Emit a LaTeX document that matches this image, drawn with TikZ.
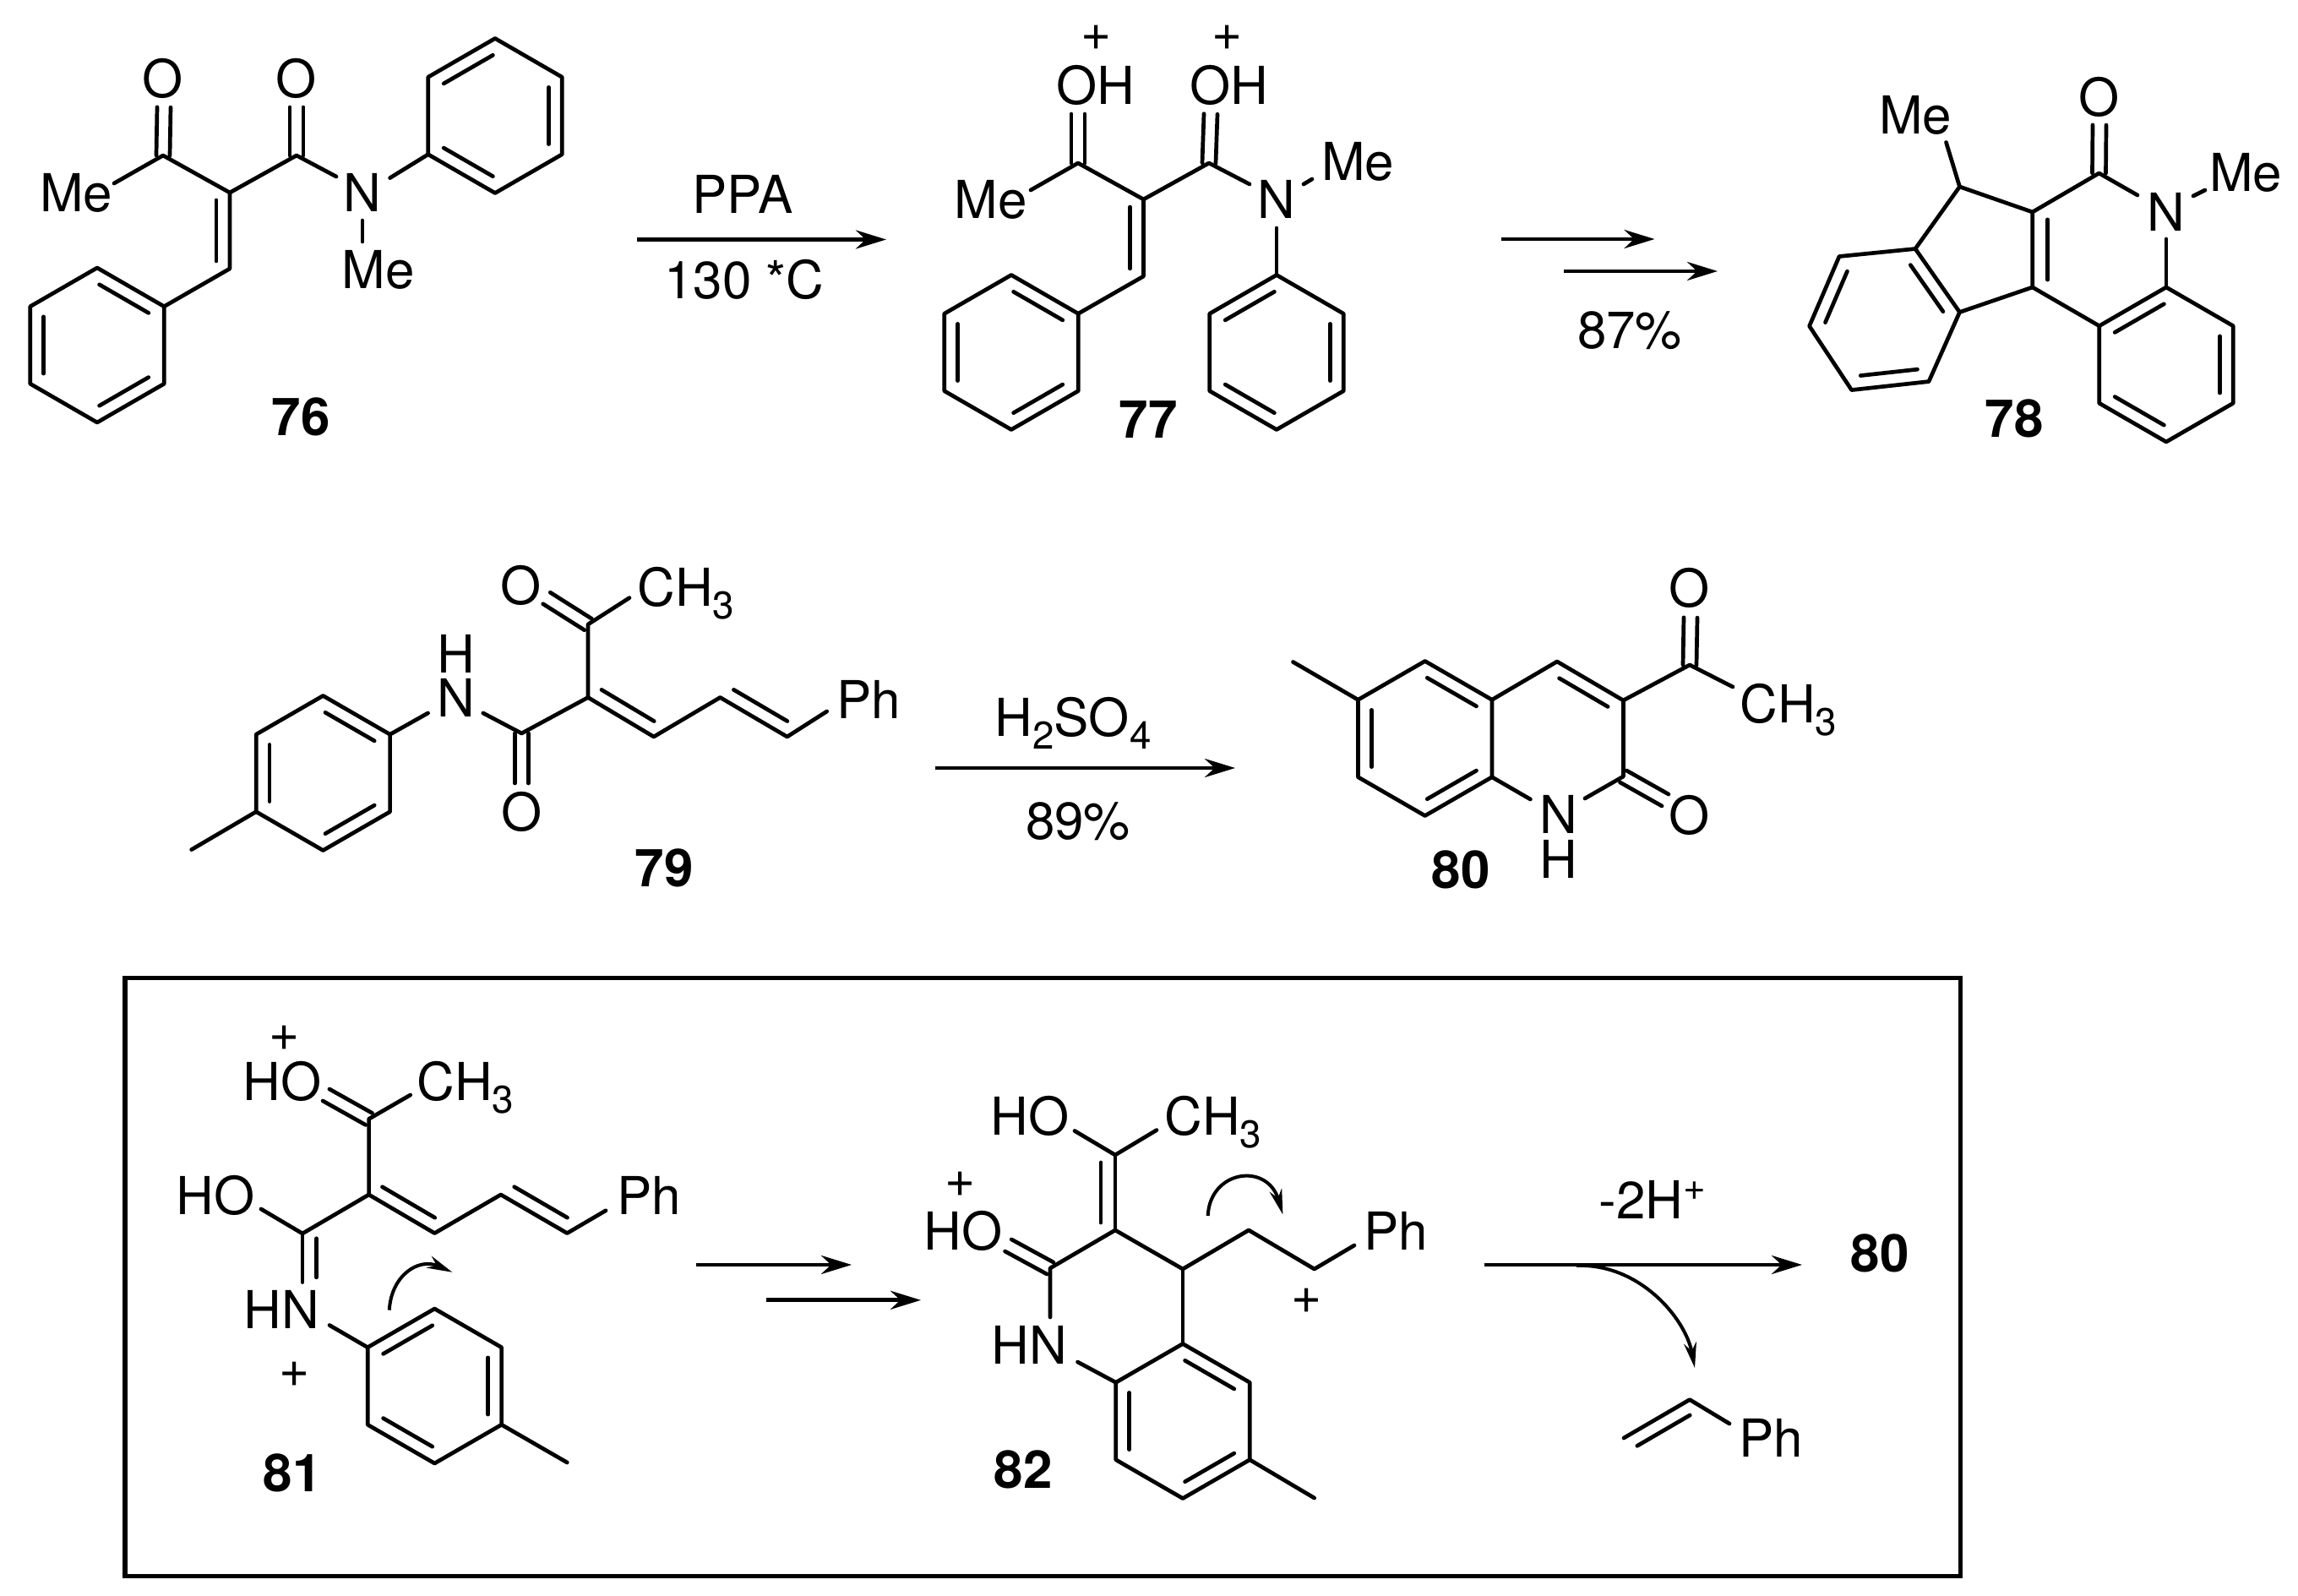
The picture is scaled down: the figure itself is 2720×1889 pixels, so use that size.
\documentclass[tikz,border=0pt]{standalone}
\usepackage{fontspec}
\setsansfont{TeX Gyre Heros}
\usetikzlibrary{calc, arrows.meta}

\newcommand{\lowsub}[1]{\raisebox{-.145cm}{\fontsize{13}{15}\selectfont #1}}
\newcommand{\highsup}[1]{\raisebox{.22cm}{\fontsize{13}{15}\selectfont #1}}
\newcommand{\ringdb}[3]{\draw[bond, shorten <=.03cm, shorten >=.03cm] ($(#1)!.2!(#3)$) -- ($(#2)!.2!(#3)$);}
\newcommand{\sidebond}[3]{\draw[bond] ($(#1)!.1!(#2)!#3!90:(#2)$) -- ($(#2)!.1!(#1)!#3!-90:(#1)$);}
\newcommand{\cdbond}[2]{
	\draw[bond] ($(#1)!.08cm!90:(#2)$) -- ($(#2)!.08cm!-90:(#1)$);
	\draw[bond] ($(#1)!.08cm!-90:(#2)$) -- ($(#2)!.08cm!90:(#1)$);
}
\newcommand{\benzring}[3]{
	\coordinate (#1c) at (#2);
	\foreach \k in {1,...,6} {\coordinate (#1\k) at ($(#2)+({-150+60*\k}:91.5)$);}
	\draw[bond] (#11) -- (#12) -- (#13) -- (#14) -- (#15) -- (#16) -- cycle;
	\foreach \k in {0,2,4} {
		\pgfmathtruncatemacro{\ka}{mod(\k+#3,6)+1}
		\pgfmathtruncatemacro{\kb}{mod(\k+#3+1,6)+1}
		\ringdb{#1\ka}{#1\kb}{#1c}
	}
}

\begin{document}
\begin{tikzpicture}[x=.01cm, y=-.01cm,
	bond/.style={line width=.047cm, line cap=round, line join=round},
	rxn/.style={line width=.046cm, -{Stealth[length=.36cm, width=.22cm]}},
	curly/.style={line width=.04cm, -{Stealth[length=.3cm, width=.15cm]}},
	lbl/.style={inner sep=0pt, anchor=base, font=\sffamily\fontsize{17.6}{20}\selectfont},
	num/.style={inner sep=0pt, anchor=base, font=\sffamily\bfseries\fontsize{17.6}{20}\selectfont}]
	\useasboundingbox (0,0) rectangle (2720,1889);

	\benzring{pa}{586,137}{1}
	\benzring{pb}{115,408.5}{0}
	\coordinate (a1) at (193,184);
	\coordinate (a2) at (272,228);
	\coordinate (a3) at (351,184);
	\coordinate (a4) at (272,318);
	\coordinate (a1o) at (194,127);
	\coordinate (a3o) at (351,127);
	\coordinate (a1m) at (135,217);
	\coordinate (a3n) at (398,209);
	\coordinate (an1) at (461.6,210.6);
	\coordinate (an2) at (429,261);
	\coordinate (an3) at (429,286);
	\draw[bond]		(a1m) -- (a1) -- (a2) -- (a3) -- (a3n);
	\draw[bond]		(a2) -- (a4) -- (pb2);
	\draw[bond]		(an1) -- (pa5);
	\draw[bond]		(an2) -- (an3);
	\cdbond{a1}{a1o}
	\cdbond{a3}{a3o}
	\sidebond{a2}{a4}{-.16cm}
	\node[lbl] (o76a) at (193,116) {O};
	\node[lbl] (o76b) at (351,116) {O};
	\node[lbl] (me76a) at (90,251) {Me};
	\node[lbl] (n76) at (429,251) {N};
	\node[lbl] (me76b) at (447.5,342) {Me};
	\node[num] (lbl76) at (356,516) {76};

	\coordinate (r1a) at (754,283.5);
	\coordinate (r1b) at (1049,283.5);
	\draw[rxn]		(r1a) -- (r1b);
	\node[lbl] (ppa) at (879,253) {PPA};
	\node[lbl] (temp) at (881,354) {130 *C};

	\benzring{pc}{1197,417}{0}
	\benzring{pd}{1511,417}{1}
	\coordinate (b1) at (1276,193);
	\coordinate (b2) at (1353.5,236);
	\coordinate (b3) at (1431,193);
	\coordinate (b4) at (1353.5,327);
	\coordinate (b1o) at (1276,135);
	\coordinate (b3o) at (1433,135);
	\coordinate (b1m) at (1220,225);
	\coordinate (b3n) at (1479,218);
	\coordinate (bn1) at (1543,218);
	\coordinate (bn2) at (1553,212);
	\coordinate (bn3) at (1511,270);
	\draw[bond]		(b1m) -- (b1) -- (b2) -- (b3) -- (b3n);
	\draw[bond]		(b2) -- (b4) -- (pc2);
	\draw[bond]		(bn1) -- (bn2);
	\draw[bond]		(bn3) -- (pd1);
	\cdbond{b1}{b1o}
	\cdbond{b3}{b3o}
	\sidebond{b2}{b4}{-.16cm}
	\node[lbl] (plus77a) at (1298,60) {+};
	\node[lbl] (plus77b) at (1453,60) {+};
	\node[lbl] (oh77a) at (1297,124) {OH};
	\node[lbl] (oh77b) at (1455,124) {OH};
	\node[lbl] (me77a) at (1172.5,259) {Me};
	\node[lbl] (n77) at (1511,259) {N};
	\node[lbl] (me77b) at (1607,214) {Me};
	\node[num] (lbl77) at (1359,519) {77};

	\coordinate (r2a) at (1777,283);
	\coordinate (r2b) at (1958.5,283);
	\coordinate (r3a) at (1851,321);
	\coordinate (r3b) at (2033,321);
	\draw[rxn]		(r2a) -- (r2b);
	\draw[rxn]		(r3a) -- (r3b);
	\node[lbl] (y87) at (1929,413) {87\%};

	\benzring{pe}{2564,431.5}{1}
	\coordinate (c1) at (2484.5,205);
	\coordinate (c2) at (2405.7,251);
	\coordinate (c3) at (2319.5,221);
	\coordinate (c4) at (2267,294.5);
	\coordinate (c5) at (2319.5,369.5);
	\coordinate (c6) at (2405.7,340);
	\coordinate (c7) at (2177,303.5);
	\coordinate (c8) at (2141.6,386);
	\coordinate (c9) at (2191.6,461.6);
	\coordinate (c10) at (2283,451.6);
	\coordinate (c0) at (2230,378);
	\coordinate (c1o) at (2485,148);
	\coordinate (c1n) at (2530,231);
	\coordinate (c3m) at (2303.5,168.5);
	\coordinate (cn1) at (2596,232);
	\coordinate (cn2) at (2610,225);
	\coordinate (cn3) at (2564,283);
	\draw[bond]		(c1n) -- (c1) -- (c2) -- (c3) -- (c4) -- (c7) -- (c8) -- (c9) -- (c10) -- (c5) -- (c4);
	\draw[bond]		(c3) -- (c3m);
	\draw[bond]		(c5) -- (c6) -- (c2);
	\draw[bond]		(c6) -- (pe6);
	\draw[bond]		(cn1) -- (cn2);
	\draw[bond]		(cn3) -- (pe1);
	\cdbond{c1}{c1o}
	\sidebond{c2}{c6}{.18cm}
	\ringdb{c4}{c5}{c0}
	\ringdb{c7}{c8}{c0}
	\ringdb{c9}{c10}{c0}
	\node[lbl] (o78) at (2485,138) {O};
	\node[lbl] (me78a) at (2267,159) {Me};
	\node[lbl] (me78b) at (2658,227) {Me};
	\node[lbl] (n78) at (2564,274) {N};
	\node[num] (lbl78) at (2384,518) {78};

	\benzring{pf}{382.4,915}{0}
	\coordinate (d1) at (617.4,868);
	\coordinate (d2) at (696,825.5);
	\coordinate (d3) at (773.8,872);
	\coordinate (d4) at (852.4,825.5);
	\coordinate (d5) at (931.7,872);
	\coordinate (d6) at (696,739);
	\coordinate (d1n) at (571.8,844);
	\coordinate (d1o) at (617.4,927);
	\coordinate (dn1) at (506.6,844);
	\coordinate (d5p) at (978.7,842);
	\coordinate (d6m) at (745,707.6);
	\coordinate (d6o) at (647,708);
	\coordinate (dme) at (226.7,1005.6);
	\draw[bond]		(d1n) -- (d1) -- (d2) -- (d3) -- (d4) -- (d5) -- (d5p);
	\draw[bond]		(d2) -- (d6) -- (d6m);
	\draw[bond]		(dn1) -- (pf2);
	\draw[bond]		(pf5) -- (dme);
	\cdbond{d1}{d1o}
	\cdbond{d6}{d6o}
	\sidebond{d2}{d3}{.16cm}
	\sidebond{d4}{d5}{.16cm}
	\node[lbl] (o79a) at (617,716) {O};
	\node[lbl] (ch79) at (812,718) {CH\lowsub{3}};
	\node[lbl] (h79) at (540,797) {H};
	\node[lbl] (n79) at (540,849) {N};
	\node[lbl] (o79b) at (617.4,984) {O};
	\node[lbl] (ph79) at (1028,851) {Ph};
	\node[num] (lbl79) at (786,1050) {79};

	\coordinate (r4a) at (1107,909);
	\coordinate (r4b) at (1462,909);
	\draw[rxn]		(r4a) -- (r4b);
	\node[lbl] (acid) at (1270,872) {H\lowsub{2}SO\lowsub{4}};
	\node[lbl] (y89) at (1276,994) {89\%};

	\benzring{pg}{1686.7,874}{0}
	\coordinate (e1) at (1843,783);
	\coordinate (e2) at (1921.4,829);
	\coordinate (e3) at (1921.4,919);
	\coordinate (e4) at (2000,787);
	\coordinate (ec) at (1843,874);
	\coordinate (e3n) at (1876,945);
	\coordinate (e3o) at (1971,947);
	\coordinate (e4o) at (2001,731);
	\coordinate (e4m) at (2051,813);
	\coordinate (en1) at (1811.4,946);
	\coordinate (eme) at (1530.5,783.5);
	\draw[bond]		(pg2) -- (e1) -- (e2) -- (e3) -- (e3n);
	\draw[bond]		(e2) -- (e4) -- (e4m);
	\draw[bond]		(pg3) -- (en1);
	\draw[bond]		(pg6) -- (eme);
	\cdbond{e3}{e3o}
	\cdbond{e4}{e4o}
	\ringdb{e1}{e2}{ec}
	\node[lbl] (o80a) at (2000,719) {O};
	\node[lbl] (ch80) at (2117,856) {CH\lowsub{3}};
	\node[lbl] (o80b) at (2000,988) {O};
	\node[lbl] (n80) at (1844.4,987) {N};
	\node[lbl] (h80) at (1844.4,1040) {H};
	\node[num] (lbl80) at (1729,1052) {80};

	\draw[line width=.05cm]		(148,1158) rectangle (2320,1865);

	\benzring{ph}{514.4,1640.5}{1}
	\coordinate (f1) at (436.6,1324.4);
	\coordinate (f2) at (436.6,1414);
	\coordinate (f3) at (358,1460);
	\coordinate (f4) at (514.4,1459.6);
	\coordinate (f5) at (592.8,1414);
	\coordinate (f6) at (671.3,1459.6);
	\coordinate (f1o) at (386,1296);
	\coordinate (f1m) at (485.7,1296);
	\coordinate (f3o) at (309,1431);
	\coordinate (f3n) at (358,1517.6);
	\coordinate (f6p) at (717,1432.8);
	\coordinate (fn1) at (390,1568.5);
	\coordinate (fme) at (671.3,1731);
	\coordinate (fa) at (460.8,1550.6);
	\coordinate (fb) at (535.4,1505.8);
	\draw[bond]		(f1m) -- (f1) -- (f2) -- (f3) -- (f3o);
	\draw[bond]		(f3) -- (f3n);
	\draw[bond]		(f2) -- (f4) -- (f5) -- (f6) -- (f6p);
	\draw[bond]		(fn1) -- (ph6);
	\draw[bond]		(ph3) -- (fme);
	\cdbond{f1}{f1o}
	\sidebond{f3}{f3n}{.167cm}
	\sidebond{f2}{f4}{.16cm}
	\sidebond{f5}{f6}{.16cm}
	\draw[curly]	(fa) .. controls (463,1510) and (495,1488) .. (fb);
	\node[lbl] (plus81a) at (336.4,1244) {+};
	\node[lbl] (ho81a) at (334,1303) {HO};
	\node[lbl] (ch81) at (551,1303) {CH\lowsub{3}};
	\node[lbl] (ho81b) at (255,1438) {HO};
	\node[lbl] (ph81) at (768,1438) {Ph};
	\node[lbl] (hn81) at (333,1573) {HN};
	\node[lbl] (plus81b) at (349,1642) {+};
	\node[num] (lbl81) at (346,1765) {81};

	\coordinate (r5a) at (823.7,1497);
	\coordinate (r5b) at (1008,1497);
	\coordinate (r6a) at (906.6,1538.8);
	\coordinate (r6b) at (1090,1538.8);
	\draw[rxn]		(r5a) -- (r5b);
	\draw[rxn]		(r6a) -- (r6b);

	\benzring{pi}{1400,1682}{0}
	\coordinate (g1) at (1243,1501);
	\coordinate (g2) at (1320,1456);
	\coordinate (g3) at (1320,1367);
	\coordinate (g4) at (1400,1502);
	\coordinate (g5) at (1478,1456);
	\coordinate (g6) at (1555.7,1502);
	\coordinate (g1o) at (1193.4,1474);
	\coordinate (g1n) at (1243,1559);
	\coordinate (g3o) at (1272,1338.5);
	\coordinate (g3m) at (1369,1337.6);
	\coordinate (g6p) at (1603,1474);
	\coordinate (gn1) at (1275.5,1612);
	\coordinate (gme) at (1555.7,1773);
	\coordinate (ga) at (1429.7,1439);
	\coordinate (gb) at (1518.4,1437.5);
	\draw[bond]		(g1n) -- (g1) -- (g2) -- (g4) -- (g5) -- (g6) -- (g6p);
	\draw[bond]		(g3o) -- (g3) -- (g3m);
	\draw[bond]		(g2) -- (g3);
	\draw[bond]		(g4) -- (pi1);
	\draw[bond]		(gn1) -- (pi6);
	\draw[bond]		(pi3) -- (gme);
	\cdbond{g1}{g1o}
	\sidebond{g2}{g3}{.17cm}
	\draw[curly]	(ga) .. controls (1432,1385) and (1500,1375) .. (gb);
	\node[lbl] (ho82a) at (1219,1344) {HO};
	\node[lbl] (ch82) at (1436,1344) {CH\lowsub{3}};
	\node[lbl] (plus82a) at (1137,1416) {+};
	\node[lbl] (ho82b) at (1140,1480) {HO};
	\node[lbl] (hn82) at (1218,1614) {HN};
	\node[lbl] (ph82) at (1652,1479) {Ph};
	\node[lbl] (plus82b) at (1547,1554) {+};
	\node[num] (lbl82) at (1211,1761) {82};

	\coordinate (r7a) at (1757,1497);
	\coordinate (r7b) at (2133,1497);
	\coordinate (r8a) at (1866,1498);
	\coordinate (r8b) at (2006,1619);
	\draw[rxn]		(r7a) -- (r7b);
	\draw[curly]	(r8a) .. controls (1940,1495) and (1995,1560) .. (r8b);
	\node[lbl] (loss) at (1956,1443) {-2H\highsup{+}};
	\node[num] (lbl80b) at (2225,1506) {80};

	\coordinate (h1) at (1922,1702);
	\coordinate (h2) at (2000,1656.6);
	\coordinate (h3) at (2047,1685);
	\draw[bond]		(h1) -- (h2) -- (h3);
	\sidebond{h1}{h2}{-.16cm}
	\node[lbl] (ph83) at (2096,1724) {Ph};
\end{tikzpicture}
\end{document}
